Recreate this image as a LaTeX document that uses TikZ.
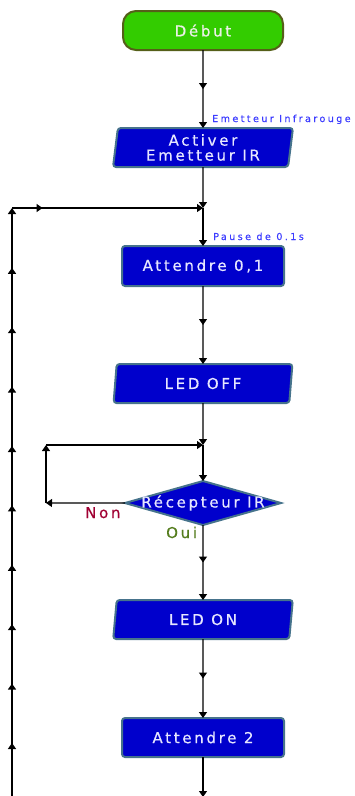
\documentclass[tikz,border=0pt]{standalone}
\usepackage{fontspec}
\usepackage{xcolor}
\usetikzlibrary{shapes.geometric,arrows.meta,positioning,decorations.markings}
\newfontfamily\boxfont[LetterSpace=18,FakeBold=0.6]{DejaVu Sans}
\newfontfamily\notefont[LetterSpace=25,FakeBold=0.4]{DejaVu Sans}
\definecolor{startgreen}{RGB}{51,204,0}
\definecolor{startedge}{RGB}{85,95,25}
\definecolor{starttext}{RGB}{235,240,230}
\definecolor{boxblue}{RGB}{0,0,204}
\definecolor{boxedge}{RGB}{70,115,140}
\definecolor{boxtext}{RGB}{230,230,255}
\definecolor{notecol}{RGB}{60,60,255}
\definecolor{noncol}{RGB}{160,0,50}
\definecolor{ouicol}{RGB}{85,125,30}

\begin{document}
\begin{tikzpicture}[x=1pt,y=1pt,
    startbox/.style={draw=startedge,line width=2pt,fill=startgreen,rounded corners=13pt,minimum width=160pt,minimum height=39pt,outer sep=0pt,text=starttext,font={\boxfont\fontsize{15}{15}\selectfont}},
    iobox/.style={trapezium,trapezium left angle=83,trapezium right angle=97,trapezium stretches=true,draw=boxedge,line width=2pt,fill=boxblue,rounded corners=3pt,minimum width=180pt,minimum height=39pt,inner sep=0pt,outer sep=0pt,align=center,text=boxtext,font={\boxfont\fontsize{15}{15}\selectfont}},
    waitbox/.style={rectangle,draw=boxedge,line width=2pt,fill=boxblue,rounded corners=3pt,minimum width=162pt,minimum height=39pt,outer sep=0pt,text=boxtext,font={\boxfont\fontsize{15}{15}\selectfont}},
    testbox/.style={diamond,draw=boxedge,line width=2pt,fill=boxblue,minimum width=156pt,minimum height=44pt,inner sep=0pt,outer sep=0pt,text=boxtext,font={\boxfont\fontsize{15}{15}\selectfont}},
    note/.style={inner sep=0pt,text=notecol,font={\notefont\fontsize{9.6}{10}\selectfont}},
    answer/.style={inner sep=0pt,font={\boxfont\fontsize{15}{15}\selectfont}},
    tipat/.style={postaction={decorate},decoration={markings,mark=at position #1 with {\arrow{Triangle[width=8pt,length=6pt]}}}},
    flow/.style={line width=1.2pt,-{Triangle[width=8pt,length=6pt]}},
    midflow/.style={flow,tipat=0.5},
    loopflow/.style={line width=1.8pt,-{Triangle[width=8pt,length=6pt]},postaction={decorate},decoration={markings,mark=between positions 57pt and 540pt step 59.4pt with {\arrow{Triangle[width=8pt,length=6pt]}}}}]
  \useasboundingbox (0,0) rectangle (354,-796);
  \node[startbox] (start) at (203,-30.5) {Début};
  \node[iobox,below=78pt of start] (act) {Activer\\Emetteur IR};
  \node[waitbox,below=79pt of act,minimum height=40pt] (wait1) {Attendre 0,1};
  \node[iobox,below=78pt of wait1] (ledoff) {LED OFF};
  \node[testbox,below=78pt of ledoff] (dec) {\makebox[0pt]{Récepteur IR}};
  \node[iobox,below=75pt of dec] (ledon) {LED ON};
  \node[waitbox,below=79pt of ledon] (wait2) {Attendre 2};
  \node[note,anchor=base west] (emlbl) at (212,-122) {Emetteur Infrarouge};
  \node[note,anchor=base west] (pauselbl) at (213,-240) {Pause de 0.1s};
  \node[answer,anchor=base west,text=noncol] (nonlbl) at (85,-518) {Non};
  \node[answer,anchor=base west,text=ouicol] (ouilbl) at (166,-538) {Oui};
  \coordinate (j1) at (203,-208);
  \coordinate (j2) at (203,-445);
  \coordinate (tl) at (12,-208);
  \coordinate (bl) at (12,-800);
  \coordinate (nl) at (46,-503);
  \coordinate (nt) at (46,-445);
  \coordinate (mbot) at (203,-797);
  \draw[midflow] (start) -- (act);
  \draw[flow] (act) -- (j1);
  \draw[flow] (j1) -- (wait1);
  \draw[loopflow] (bl) -- (tl);
  \draw[flow,tipat=0.16] (tl) -- (j1);
  \draw[midflow] (wait1) -- (ledoff);
  \draw[flow] (ledoff) -- (j2);
  \draw[flow] (j2) -- (dec);
  \draw[flow] (dec.west) -- (nl);
  \draw[flow] (nl) -- (nt);
  \draw[flow] (nt) -- (j2);
  \draw[midflow] (dec) -- (ledon);
  \draw[midflow] (ledon) -- (wait2);
  \draw[flow] (wait2) -- (mbot);
\end{tikzpicture}
\end{document}
